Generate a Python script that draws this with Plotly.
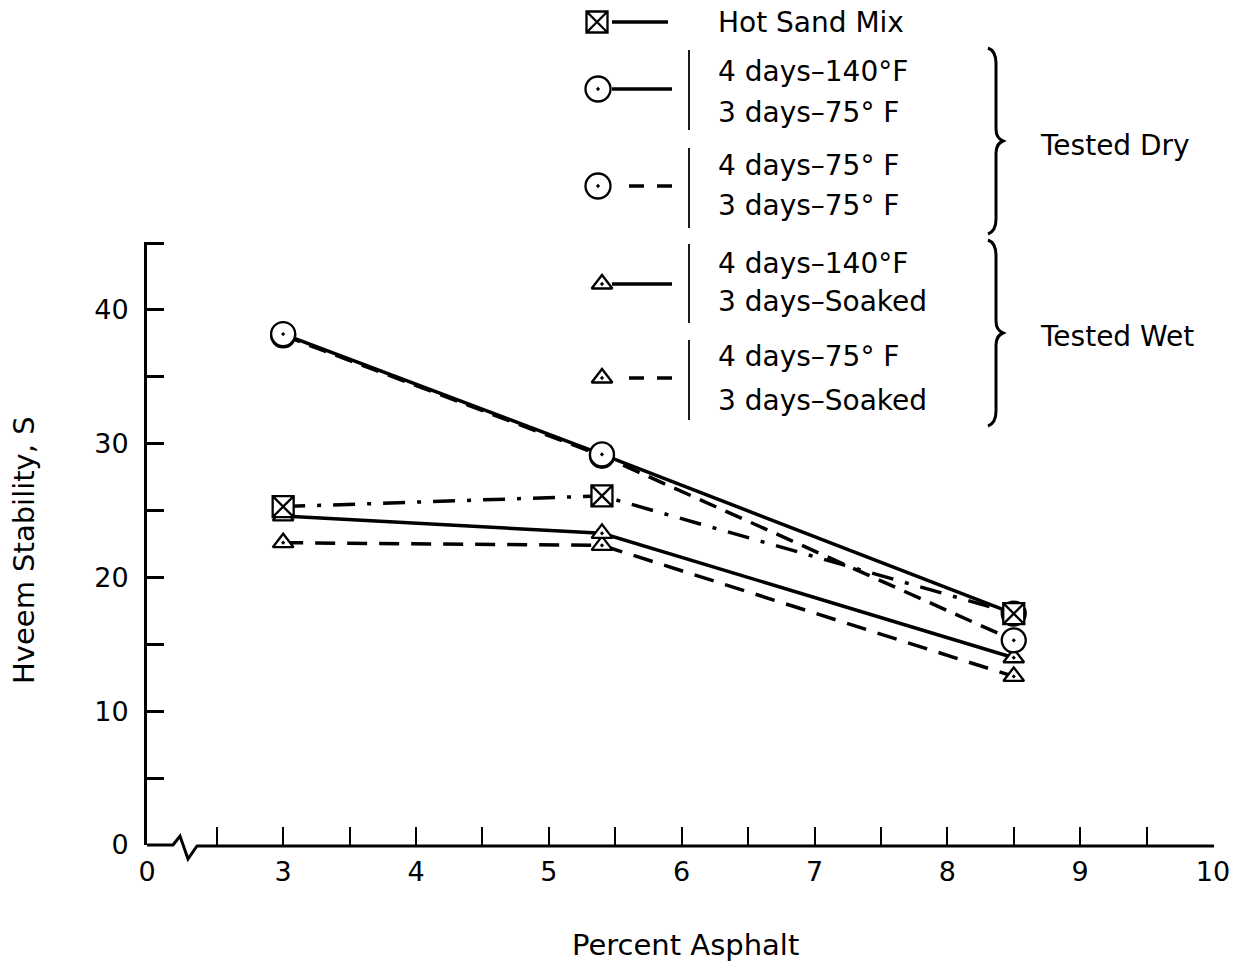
import plotly.graph_objects as go

# ---------------- data ----------------
pct_asphalt = [3, 5.4, 8.5]
hot_sand_mix = [25.3, 26.1, 17.3]
dry_140 = [38.2, 29.2, 17.3]   # 4 days-140F / 3 days-75F, tested dry
dry_75 = [38.1, 29.1, 15.3]    # 4 days-75F / 3 days-75F, tested dry
wet_140 = [24.6, 23.3, 14.0]   # 4 days-140F / 3 days-soaked, tested wet
wet_75 = [22.6, 22.4, 12.6]    # 4 days-75F / 3 days-soaked, tested wet

x_break_zero = 1.975  # where the "0" of the broken axis sits
x_tick_vals = [x_break_zero, 2.5, 3, 3.5, 4, 4.5, 5, 5.5, 6, 6.5, 7, 7.5, 8, 8.5, 9, 9.5, 10]
x_tick_text = ["0", "", "3", "", "4", "", "5", "", "6", "", "7", "", "8", "", "9", "", "10"]
y_tick_vals = [0, 5, 10, 15, 20, 25, 30, 35, 40, 45]
y_tick_text = ["0", "", "10", "", "20", "", "30", "", "40", ""]

legend_labels = [
    ["Hot Sand Mix"],
    ["4 days\u2013140\u00b0F", "3 days\u201375\u00b0 F"],
    ["4 days\u201375\u00b0 F", "3 days\u201375\u00b0 F"],
    ["4 days\u2013140\u00b0F", "3 days\u2013Soaked"],
    ["4 days\u201375\u00b0 F", "3 days\u2013Soaked"],
]
group_labels = ["Tested Dry", "Tested Wet"]

# ---------------- layout geometry (pixels) ----------------
W, H = 1234, 967
L, R, B, T = 147, 1213, 845, 0
PLOT_TOP = 242
FONT = "DejaVu Sans"


def px(x):
    return (x - L) / (R - L)


def py(y):
    return (B - y) / (B - T)


fig = go.Figure()

series = [
    dict(y=hot_sand_mix, dash="22px,12px,4px,12px", symbol="square-x", size=21),
    dict(y=dry_140, dash="solid", symbol="circle-dot", size=24),
    dict(y=dry_75, dash="18px,10px", symbol="circle-dot", size=24),
    dict(y=wet_140, dash="solid", symbol="triangle-up-dot", size=18),
    dict(y=wet_75, dash="20px,12px", symbol="triangle-up-dot", size=18),
]

# lines first
for s in series:
    fig.add_trace(go.Scatter(x=pct_asphalt, y=s["y"], mode="lines",
                             line=dict(color="black", width=3.5, dash=s["dash"]),
                             showlegend=False, hoverinfo="skip", cliponaxis=False))
# markers on top (triangles, circles, squares)
for i in [4, 3, 2, 1, 0]:
    s = series[i]
    fig.add_trace(go.Scatter(x=pct_asphalt, y=s["y"], mode="markers",
                             marker=dict(symbol=s["symbol"], size=s["size"], color="white",
                                         line=dict(color="black", width=2.3)),
                             showlegend=False, cliponaxis=False))

# ---------------- custom legend (pixel coordinates on overlay axes) ----------------
leg_y = [22, 89, 186, 284, 378]
leg_sym_x = [597, 598, 598, 602, 602]
leg_line = [(612, 668, "solid"), (612, 672, "solid"), (629, 672, "15px,13px"),
            (612, 672, "solid"), (629, 672, "15px,13px")]
leg_sym_size = [21, 25, 25, 18, 18]
for k, s in enumerate(series):
    x0, x1, d = leg_line[k]
    fig.add_trace(go.Scatter(x=[x0, x1], y=[leg_y[k], leg_y[k]], mode="lines",
                             line=dict(color="black", width=3.5, dash=d),
                             xaxis="x2", yaxis="y2", showlegend=False, cliponaxis=False,
                             hoverinfo="skip"))
    fig.add_trace(go.Scatter(x=[leg_sym_x[k]], y=[leg_y[k]], mode="markers",
                             marker=dict(symbol=s["symbol"], size=leg_sym_size[k], color="white",
                                         line=dict(color="black", width=2.3)),
                             xaxis="x2", yaxis="y2", showlegend=False, cliponaxis=False,
                             hoverinfo="skip"))

annotations = []
shapes = []

# legend texts
text_rows = [[22], [71, 112], [165, 206], [263, 302], [357, 400]]
for k, lines in enumerate(legend_labels):
    for j, txt in enumerate(lines):
        annotations.append(dict(x=px(716), y=py(text_rows[k][j]), xref="paper", yref="paper",
                                text=txt, showarrow=False, xanchor="left", yanchor="middle",
                                font=dict(family=FONT, size=28, color="black")))

# thin bars in front of two-line labels
for (y0, y1) in [(50, 130), (148, 228), (244, 323), (340, 420)]:
    shapes.append(dict(type="line", xref="paper", yref="paper",
                       x0=px(689), x1=px(689), y0=py(y0), y1=py(y1),
                       line=dict(color="black", width=1.8)))


# braces
def brace(y0, y1, x=996):
    ym = (y0 + y1) / 2
    pts = [(x - 8, y0), (x, y0 + 3), (x, y0 + 15), (x, ym - 12), (x + 7, ym),
           (x, ym + 12), (x, y1 - 15), (x, y1 - 3), (x - 8, y1)]
    p = lambda q: f"{px(q[0]):.5f},{py(q[1]):.5f}"
    path = (f"M{p(pts[0])} Q{p(pts[1])} {p(pts[2])} L{p(pts[3])} Q{p((x, ym - 3))} {p(pts[4])} "
            f"Q{p((x, ym + 3))} {p(pts[5])} L{p(pts[6])} Q{p(pts[7])} {p(pts[8])}")
    return dict(type="path", xref="paper", yref="paper", path=path,
                line=dict(color="black", width=3))


shapes.append(brace(48, 234))
shapes.append(brace(240, 426))
for gl, gy in zip(group_labels, [145, 337]):
    annotations.append(dict(x=px(1038), y=py(gy), xref="paper", yref="paper", text=gl,
                            showarrow=False, xanchor="left", yanchor="middle",
                            font=dict(family=FONT, size=28, color="black")))

# broken x axis line
shapes.append(dict(type="path", xref="paper", yref="paper",
                   path=(f"M{px(147)},{py(845)} L{px(173)},{py(845)} L{px(180)},{py(836)} "
                         f"L{px(188)},{py(859)} L{px(197)},{py(846)} L{px(1214)},{py(846)}"),
                   line=dict(color="black", width=3)))

# axis titles
annotations.append(dict(x=px(685), y=py(945), xref="paper", yref="paper", text="Percent Asphalt",
                        showarrow=False, xanchor="center", yanchor="middle",
                        font=dict(family=FONT, size=29, color="black")))
annotations.append(dict(x=px(24), y=py(550), xref="paper", yref="paper", text="Hveem Stability, S",
                        showarrow=False, xanchor="center", yanchor="middle", textangle=-90,
                        font=dict(family=FONT, size=29, color="black")))

fig.update_layout(
    width=W, height=H,
    margin=dict(l=L, r=W - R, t=T, b=H - B, pad=0),
    paper_bgcolor="white", plot_bgcolor="rgba(0,0,0,0)",
    showlegend=False,
    xaxis=dict(domain=[0, 1], range=[x_break_zero, 10], tickmode="array",
               tickvals=x_tick_vals, ticktext=x_tick_text, ticks="inside", ticklen=18,
               tickwidth=2, tickcolor="black", showline=False, showgrid=False, zeroline=False,
               tickfont=dict(family=FONT, size=27, color="black"), ticklabelstandoff=8,
               automargin=False, anchor="y"),
    yaxis=dict(domain=[0, (B - PLOT_TOP) / (B - T)], range=[0, 45.08], tickmode="array",
               tickvals=y_tick_vals, ticktext=y_tick_text, ticks="inside", ticklen=17,
               tickwidth=3, tickcolor="black", showline=True, linewidth=3, linecolor="black",
               showgrid=False, zeroline=False,
               tickfont=dict(family=FONT, size=27, color="black"), ticklabelstandoff=10,
               automargin=False, anchor="x"),
    xaxis2=dict(domain=[0, 1], range=[L, R], visible=False, anchor="y2", fixedrange=True),
    yaxis2=dict(domain=[0, 1], range=[B, T], visible=False, anchor="x2", fixedrange=True),
    annotations=annotations,
    shapes=shapes,
)

fig.write_html("out.html")
